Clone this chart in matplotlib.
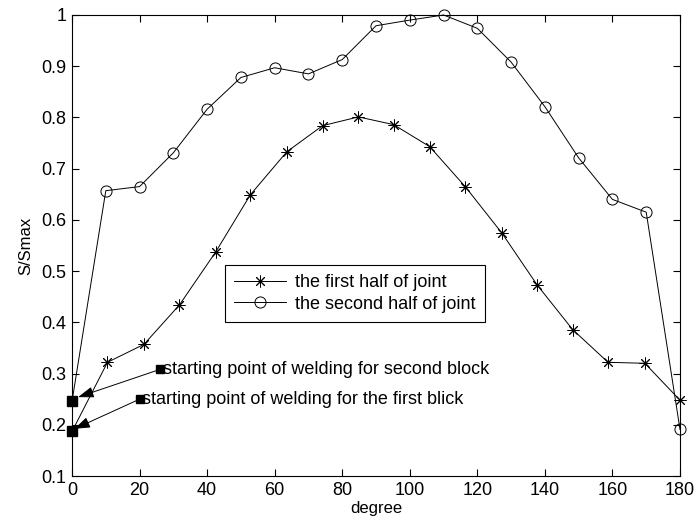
import matplotlib
matplotlib.use("Agg")
import matplotlib.pyplot as plt

plt.rcParams['font.family'] = ['Liberation Sans', 'DejaVu Sans']

# first half of the joint (asterisk markers)
deg_first = [0, 10.5, 21.3, 31.8, 42.5, 52.8, 63.6, 74.2, 84.8, 95.2,
             105.9, 116.4, 127.3, 137.7, 148.2, 158.7, 169.6, 180]
s_first = [0.187, 0.322, 0.357, 0.434, 0.537, 0.649, 0.733, 0.784, 0.801,
           0.786, 0.743, 0.665, 0.574, 0.473, 0.386, 0.322, 0.320, 0.248]

# second half of the joint (circle markers)
deg_second = [0, 10, 20, 30, 40, 50, 60, 70, 80, 90, 100, 110, 120, 130,
              140, 150, 160, 170, 180]
s_second = [0.246, 0.657, 0.665, 0.731, 0.816, 0.878, 0.897, 0.885, 0.913,
            0.979, 0.990, 1.0, 0.974, 0.908, 0.821, 0.721, 0.640, 0.615, 0.191]

# text labels pointing at the welding start points
notes = ["starting point of welding for second block",
         "starting point of welding for the first blick"]
note_pos = [(26, 0.308), (20, 0.250)]
note_tip = [(1.8, 0.254), (0.7, 0.192)]

fs = 13
asterisk = (8, 2, 0)

fig = plt.figure(figsize=(6.98, 5.24), dpi=100)
ax = fig.add_axes([0.1032, 0.0916, 0.8710, 0.8798])

ax.plot(deg_first, s_first, color='k', lw=0.7, marker=asterisk, ms=8.5,
        mew=0.7, markevery=list(range(1, len(deg_first))), clip_on=False,
        label='the first half of joint')
ax.plot(deg_second, s_second, color='k', lw=0.7, marker='o', ms=8,
        mfc='none', mew=0.7, markevery=list(range(1, len(deg_second))),
        clip_on=False, label='the second half of joint')

# start points drawn as filled squares
ax.plot([deg_first[0], deg_second[0]], [s_first[0], s_second[0]], 's',
        color='k', ms=7, clip_on=False, zorder=5)

for txt, pos, tip in zip(notes, note_pos, note_tip):
    ax.plot(pos[0], pos[1], 's', color='k', ms=6, zorder=5)
    ax.annotate('', xy=tip, xytext=pos,
                arrowprops=dict(arrowstyle='-|>,head_length=0.8,head_width=0.28',
                                color='k', lw=0.7, mutation_scale=12,
                                shrinkA=0, shrinkB=0), zorder=6)
    ax.text(pos[0] + 0.8, pos[1], txt, fontsize=fs, va='center', ha='left')

ax.set_xlim(0, 180)
ax.set_ylim(0.1, 1.0)
ax.set_xticks(range(0, 181, 20))
ax.set_yticks([0.1, 0.2, 0.3, 0.4, 0.5, 0.6, 0.7, 0.8, 0.9, 1.0])
ax.set_yticklabels(['0.1', '0.2', '0.3', '0.4', '0.5', '0.6', '0.7', '0.8',
                    '0.9', '1'])
ax.tick_params(direction='in', top=True, right=True, labelsize=fs,
               length=5, width=0.8, pad=4)
for sp in ax.spines.values():
    sp.set_linewidth(0.8)

ax.set_xlabel('degree', fontsize=fs - 1, labelpad=2)
ax.set_ylabel('S/Smax', fontsize=fs - 1, labelpad=6)

leg = ax.legend(loc='upper left', bbox_to_anchor=(0.2516, 0.4577),
                borderaxespad=0, fontsize=fs, fancybox=False,
                edgecolor='k', framealpha=1, handlelength=2.9,
                handletextpad=0.5, borderpad=0.5, labelspacing=0.25)
leg.get_frame().set_linewidth(0.8)

fig.savefig('out.png', dpi=100)
